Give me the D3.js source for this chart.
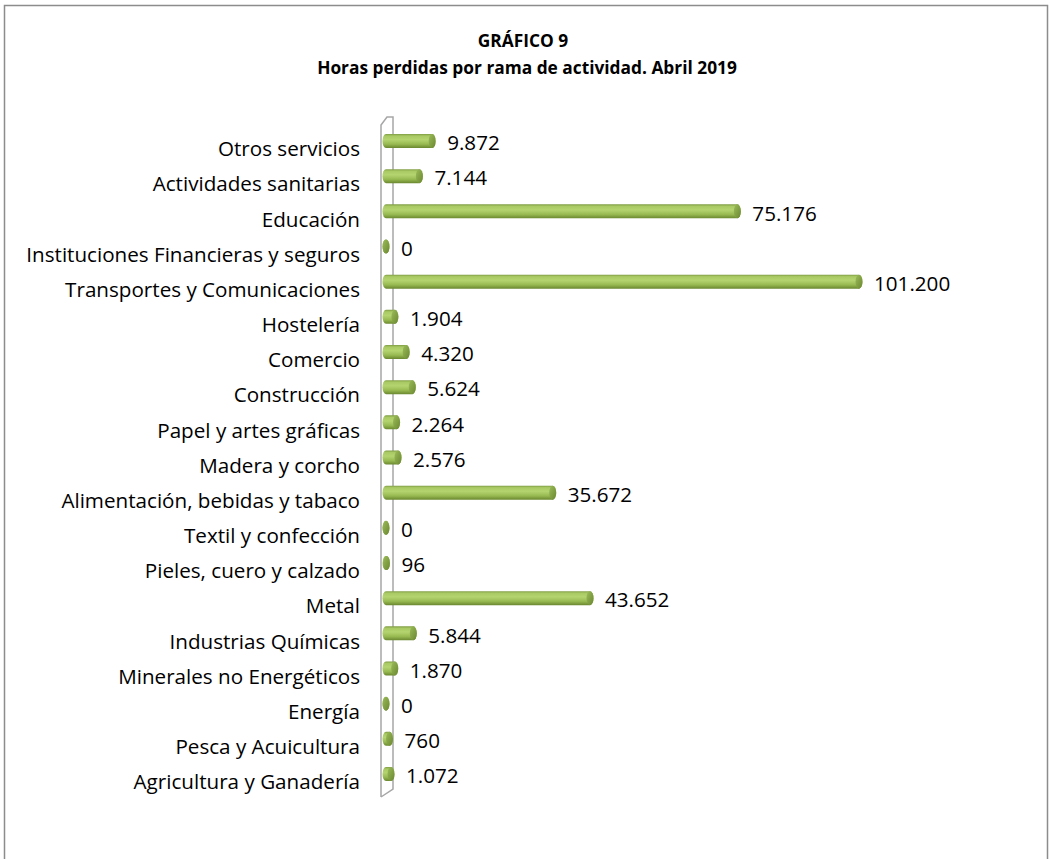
<!DOCTYPE html>
<html>
<head>
<meta charset="utf-8">
<script src="https://cdn.jsdelivr.net/npm/d3@7"></script>
<style>
  html, body { margin: 0; padding: 0; background: #fff; }
  svg { display: block; }
  text { font-family: "Open Sans", Lato, sans-serif; fill: #000; }
</style>
</head>
<body>
<svg id="chart" width="1050" height="859"></svg>
<script>
const categories = [
  "Otros servicios",
  "Actividades sanitarias",
  "Educación",
  "Instituciones Financieras y seguros",
  "Transportes y Comunicaciones",
  "Hostelería",
  "Comercio",
  "Construcción",
  "Papel y artes gráficas",
  "Madera y corcho",
  "Alimentación, bebidas y tabaco",
  "Textil y confección",
  "Pieles, cuero y calzado",
  "Metal",
  "Industrias Químicas",
  "Minerales no Energéticos",
  "Energía",
  "Pesca y Acuicultura",
  "Agricultura y Ganadería"
];
const values = [9872, 7144, 75176, 0, 101200, 1904, 4320, 5624, 2264, 2576, 35672, 0, 96, 43652, 5844, 1870, 0, 760, 1072];
const valueLabels = ["9.872", "7.144", "75.176", "0", "101.200", "1.904", "4.320", "5.624", "2.264", "2.576", "35.672", "0", "96", "43.652", "5.844", "1.870", "0", "760", "1.072"];
const titleLines = ["GRÁFICO 9", "Horas perdidas por rama de actividad. Abril 2019"];

const svg = d3.select("#chart");

function fitSize(text, weight, target) {
  const t = svg.append("text").attr("font-size", 20).attr("font-weight", weight).text(text);
  const w = t.node().getComputedTextLength();
  t.remove();
  return 20 * target / w;
}
const labelSize = fitSize("Instituciones Financieras y seguros", "normal", 334);
const titleSize = fitSize(titleLines[1], "bold", 420);

// outer frame (bottom edge falls outside the window)
svg.append("path")
  .attr("d", "M4.5,870 V5.5 H1047.5 V870")
  .attr("fill", "none").attr("stroke", "#8c8c8c").attr("stroke-width", 1.5);

// titles
svg.append("text").attr("x", 523).attr("y", 41).attr("text-anchor", "middle")
  .attr("font-weight", "bold").attr("font-size", titleSize).attr("dy", "0.35em").text(titleLines[0]);
svg.append("text").attr("x", 527).attr("y", 68).attr("text-anchor", "middle")
  .attr("font-weight", "bold").attr("font-size", titleSize).attr("dy", "0.35em").text(titleLines[1]);

const x = d3.scaleLinear().domain([0, 101200]).range([386, 859]);
const y = d3.scalePoint().domain(categories).range([148, 781]);

// gradient for cylinders
const defs = svg.append("defs");
const g = defs.append("linearGradient").attr("id", "cyl").attr("x1", 0).attr("y1", 0).attr("x2", 0).attr("y2", 1);
[["0%", "#7f9c44"], ["14%", "#a8c963"], ["40%", "#b4d470"], ["72%", "#98ba52"], ["100%", "#6a872f"]]
  .forEach(s => g.append("stop").attr("offset", s[0]).attr("stop-color", s[1]));
const gc = defs.append("linearGradient").attr("id", "cap").attr("x1", 0).attr("y1", 0).attr("x2", 1).attr("y2", 1);
gc.append("stop").attr("offset", "0%").attr("stop-color", "#9cbc5a");
gc.append("stop").attr("offset", "100%").attr("stop-color", "#6a872f");

// 3D wall (thin)
const wallTop = 125, wallBot = 797, wx1 = 381, wx2 = 393, dd = 8;
const wall = svg.append("g").attr("fill", "none").attr("stroke", "#a6a6a6").attr("stroke-width", 1.5);
wall.append("path").attr("d", `M${wx1},${wallBot} V${wallTop} L${wx1 + 6},${wallTop - dd} H${wx2} V${wallBot - dd} L${wx1},${wallBot}`);

// category labels
svg.append("g").selectAll("text").data(categories).join("text")
  .attr("x", 360).attr("y", d => y(d) + 1).attr("dy", "0.35em")
  .attr("text-anchor", "end").attr("font-size", labelSize).text(d => d);

// bars as cylinders
const bh = 14, rx = 3.5;
const bars = svg.append("g").selectAll("g").data(values).join("g")
  .attr("transform", (d, i) => `translate(0,${y(categories[i]) - 7})`);
bars.append("path")
  .attr("d", d => {
    const x0 = x(0), x1 = x(d);
    return `M${x0},${-bh / 2} H${x1} A${rx},${bh / 2} 0 0 1 ${x1},${bh / 2} H${x0} A${rx},${bh / 2} 0 0 1 ${x0},${-bh / 2} Z`;
  })
  .attr("fill", "url(#cyl)");
bars.append("ellipse")
  .attr("cx", d => x(d)).attr("cy", 0).attr("rx", rx).attr("ry", bh / 2)
  .attr("fill", "url(#cap)");

// value labels
svg.append("g").selectAll("text").data(values).join("text")
  .attr("x", d => x(d) + 15).attr("y", (d, i) => y(categories[i]) - 5).attr("dy", "0.35em")
  .attr("font-size", labelSize).text((d, i) => valueLabels[i]);
</script>
</body>
</html>
